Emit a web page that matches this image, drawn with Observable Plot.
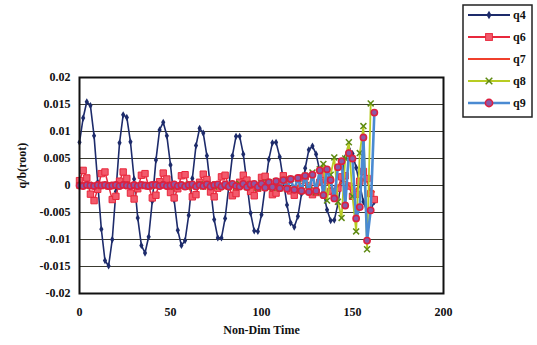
<!DOCTYPE html>
<html>
<head>
<meta charset="utf-8">
<script src="https://cdn.jsdelivr.net/npm/d3@7"></script>
<script src="https://cdn.jsdelivr.net/npm/@observablehq/plot@0.6"></script>
<style>
  body { margin: 0; background: white; }
  #wrap { position: relative; width: 537px; height: 345px; }
</style>
</head>
<body>
<div id="wrap"></div>
<script>
// Non-dimensional time samples
const time = [0,2,4,6,8,10,12,14,16,18,20,22,24,26,28,30,32,34,36,38,40,42,44,46,48,50,52,54,56,58,60,62,64,66,68,70,72,74,76,78,80,82,84,86,88,90,92,94,96,98,100,102,104,106,108,110,112,114,116,118,120,122,124,126,128,130,132,134,136,138,140,142,144,146,148,150,152,154,156,158,160,162];

const q4 = [0.0080,0.0125,0.0155,0.0148,0.0092,0.0006,-0.0081,-0.0139,-0.0149,-0.0100,-0.0011,0.0079,0.0131,0.0126,0.0081,0.0012,-0.0060,-0.0111,-0.0125,-0.0095,-0.0029,0.0047,0.0103,0.0117,0.0092,0.0038,-0.0027,-0.0083,-0.0111,-0.0102,-0.0055,0.0013,0.0074,0.0106,0.0097,0.0055,-0.0005,-0.0063,-0.0097,-0.0097,-0.0061,-0.0003,0.0055,0.0091,0.0091,0.0058,0.0004,-0.0051,-0.0084,-0.0085,-0.0054,-0.0003,0.0048,0.0079,0.0080,0.0053,0.0010,-0.0036,-0.0069,-0.0077,-0.0057,-0.0015,0.0032,0.0066,0.0073,0.0058,0.0027,-0.0011,-0.0045,-0.0065,-0.0064,-0.0034,0.0012,0.0052,0.0068,0.0059,0.0033,0.0001,-0.0030,-0.0048,-0.0045,-0.0030];

const q6 = [0.0009,0.0028,0.0014,-0.0016,-0.0028,-0.0007,0.0022,0.0025,-0.0001,-0.0026,-0.0020,0.0008,0.0025,0.0013,-0.0014,-0.0025,-0.0006,0.0019,0.0022,-0.0001,-0.0023,-0.0018,0.0007,0.0023,0.0012,-0.0013,-0.0023,-0.0006,0.0018,0.0020,-0.0001,-0.0021,-0.0017,0.0006,0.0021,0.0011,-0.0012,-0.0021,-0.0005,0.0016,0.0019,-0.0001,-0.0019,-0.0015,0.0006,0.0019,0.0010,-0.0011,-0.0019,-0.0005,0.0015,0.0017,-0.0001,-0.0017,-0.0014,0.0006,0.0018,0.0009,-0.0010,-0.0018,-0.0005,0.0014,0.0016,0.0000,-0.0017,-0.0013,0.0006,0.0020,0.0010,-0.0011,-0.0020,-0.0005,0.0016,0.0018,-0.0001,-0.0020,-0.0016,0.0008,0.0026,0.0013,-0.0015,-0.0026];

const q7 = [0.0002,0.0004,0.0002,-0.0002,-0.0004,-0.0002,0.0003,0.0004,0.0000,-0.0004,-0.0003,0.0001,0.0004,0.0002,-0.0002,-0.0004,-0.0001,0.0003,0.0003,0.0000,-0.0003,-0.0003,0.0001,0.0003,0.0002,-0.0002,-0.0003,-0.0001,0.0003,0.0003,0.0000,-0.0003,-0.0003,0.0001,0.0003,0.0002,-0.0002,-0.0003,-0.0001,0.0002,0.0003,0.0000,-0.0003,-0.0002,0.0001,0.0003,0.0002,-0.0002,-0.0003,-0.0001,0.0003,0.0003,0.0000,-0.0003,-0.0003,0.0001,0.0004,0.0002,-0.0003,-0.0004,-0.0001,0.0004,0.0005,0.0000,-0.0005,-0.0004,0.0002,0.0006,0.0003,-0.0004,-0.0007,-0.0002,0.0006,0.0008,0.0000,-0.0009,-0.0007,0.0003,0.0011,0.0006,-0.0008,-0.0012];

const q8 = [0.0000,0.0001,0.0000,-0.0001,0.0001,0.0000,-0.0001,0.0001,0.0001,-0.0001,0.0000,0.0001,-0.0001,0.0001,0.0000,-0.0001,0.0001,0.0001,-0.0001,0.0000,0.0001,-0.0001,0.0002,-0.0001,0.0001,0.0000,-0.0002,0.0002,0.0000,-0.0001,0.0002,-0.0002,0.0001,0.0002,-0.0002,0.0001,0.0002,-0.0002,0.0000,0.0002,-0.0003,0.0002,0.0001,-0.0003,0.0003,0.0000,-0.0003,0.0003,0.0001,-0.0004,0.0004,-0.0003,0.0006,-0.0004,0.0008,-0.0005,0.0010,-0.0006,0.0012,-0.0008,0.0012,-0.0010,0.0018,-0.0008,0.0024,-0.0012,0.0030,0.0040,-0.0028,0.0020,0.0052,-0.0030,-0.0060,0.0050,0.0080,-0.0020,-0.0085,0.0060,0.0110,-0.0118,0.0152,null];

const q9 = [0.0000,-0.0001,0.0001,0.0000,-0.0001,0.0001,0.0000,0.0001,-0.0001,0.0000,0.0001,-0.0001,0.0001,0.0000,-0.0001,0.0001,-0.0001,0.0001,0.0000,-0.0001,0.0001,0.0001,-0.0001,0.0001,-0.0001,0.0000,0.0002,-0.0001,0.0001,-0.0002,0.0001,0.0002,-0.0002,0.0001,-0.0001,0.0002,-0.0002,0.0001,0.0002,-0.0002,0.0002,-0.0002,0.0003,-0.0001,-0.0002,0.0003,-0.0003,0.0002,0.0003,-0.0003,0.0003,-0.0004,0.0006,-0.0003,0.0008,-0.0005,0.0010,-0.0006,0.0012,-0.0008,0.0014,-0.0010,0.0018,-0.0012,0.0020,-0.0010,0.0028,-0.0018,0.0030,0.0010,-0.0024,0.0034,0.0045,-0.0037,0.0060,0.0050,-0.0061,-0.0040,0.0089,-0.0102,-0.0046,0.0135];

const xTicks = [0, 50, 100, 150, 200];
const yTicks = [-0.02, -0.015, -0.01, -0.005, 0, 0.005, 0.01, 0.015, 0.02];
const seriesNames = ["q4", "q6", "q7", "q8", "q9"];
const xTitle = "Non-Dim Time";
const yTitle = "q/b(root)";

const rows = time.map((t, i) => ({t, q4: q4[i], q6: q6[i], q7: q7[i], q8: q8[i], q9: q9[i]}));

const C = {
  q4: "#1d2b6b", q6: "#e8283c", q7: "#f0402c", q8: "#b8cc22", q8m: "#5e8a12",
  q9: "#4a8ad2", q9m: "#dc2040", q9f: "#8a5aa8"
};

const fmt = d => String(Math.round(d * 1000) / 1000);
const font = "'Liberation Serif', serif";

const chart = Plot.plot({
  width: 537, height: 345,
  marginLeft: 79, marginRight: 94, marginTop: 77, marginBottom: 52,
  style: {fontFamily: font, fontWeight: "bold", fontSize: "12px", background: "white", color: "#111"},
  x: {domain: [0, 200]},
  y: {domain: [-0.02, 0.02]},
  marks: [
    Plot.gridY(yTicks, {stroke: "#3a3a30", strokeOpacity: 1, strokeWidth: 1}),
    Plot.axisX(xTicks, {tickSize: 0, tickPadding: 14, tickFormat: d => String(d), label: null, fontSize: 12}),
    Plot.axisY(yTicks, {tickSize: 0, tickPadding: 9, tickFormat: fmt, label: null, fontSize: 12}),
    Plot.text([xTitle], {frameAnchor: "bottom", dy: 40, fontSize: 12, fontWeight: "bold", fill: "#111"}),
    Plot.text([yTitle], {frameAnchor: "left", rotate: -90, dx: -57, dy: 3, fontSize: 12, fontWeight: "bold", fill: "#111"}),
    Plot.line(rows, {x: "t", y: "q4", stroke: C.q4, strokeWidth: 1.6}),
    Plot.dot(rows, {x: "t", y: "q4", symbol: "diamond", r: 2.2, fill: C.q4}),
    Plot.line(rows, {x: "t", y: "q6", stroke: C.q6, strokeWidth: 1.5}),
    Plot.dot(rows, {x: "t", y: "q6", symbol: "square", r: 3.6, fill: "#f25a6c", stroke: C.q6, strokeWidth: 1}),
    Plot.line(rows, {x: "t", y: "q7", stroke: C.q7, strokeWidth: 1.5}),
    Plot.line(rows, {x: "t", y: "q8", stroke: C.q8, strokeWidth: 1.8}),
    Plot.dot(rows, {x: "t", y: "q8", symbol: "times", r: 2.8, stroke: C.q8m, strokeWidth: 1.5}),
    Plot.line(rows, {x: "t", y: "q9", stroke: C.q9, strokeWidth: 2.6}),
    Plot.dot(rows, {x: "t", y: "q9", symbol: "circle", r: 3.1, fill: C.q9f, stroke: C.q9m, strokeWidth: 1.6}),
    Plot.frame({stroke: "#111", strokeWidth: 2})
  ]
});

const wrap = document.getElementById("wrap");
wrap.appendChild(chart);

// Legend (overlay built with d3)
const lg = d3.select(wrap).append("svg")
  .attr("width", 537).attr("height", 125)
  .style("position", "absolute").style("left", "0px").style("top", "0px");
lg.append("rect").attr("x", 463).attr("y", 5).attr("width", 69).attr("height", 112)
  .attr("fill", "white").attr("stroke", "#222").attr("stroke-width", 1.5);
const legendStyle = {
  q4: {line: C.q4, mk: "diamond"},
  q6: {line: C.q6, mk: "square"},
  q7: {line: C.q7, mk: null},
  q8: {line: C.q8, mk: "times"},
  q9: {line: C.q9, mk: "circle"}
};
seriesNames.forEach((name, i) => {
  const cy = 15 + i * 22;
  const st = legendStyle[name];
  const g = lg.append("g");
  g.append("line").attr("x1", 468).attr("x2", 510).attr("y1", cy).attr("y2", cy)
    .attr("stroke", st.line).attr("stroke-width", name === "q9" ? 2.6 : 1.8);
  const mx = 489;
  if (st.mk === "diamond") g.append("path").attr("d", d3.symbol(d3.symbolDiamond, 22)()).attr("transform", `translate(${mx},${cy})`).attr("fill", C.q4);
  if (st.mk === "square") g.append("rect").attr("x", mx - 3.4).attr("y", cy - 3.4).attr("width", 6.8).attr("height", 6.8).attr("fill", "#f25a6c").attr("stroke", C.q6);
  if (st.mk === "times") g.append("path").attr("d", d3.symbol(d3.symbolTimes, 30)()).attr("transform", `translate(${mx},${cy})`).attr("stroke", C.q8m).attr("stroke-width", 1.5);
  if (st.mk === "circle") g.append("circle").attr("cx", mx).attr("cy", cy).attr("r", 3.6).attr("fill", C.q9f).attr("stroke", C.q9m).attr("stroke-width", 1.6);
  g.append("text").attr("x", 513).attr("y", cy).attr("dy", "0.35em")
    .attr("font-family", font).attr("font-weight", "bold").attr("font-size", 12)
    .attr("fill", "#111").text(name);
});
</script>
</body>
</html>
